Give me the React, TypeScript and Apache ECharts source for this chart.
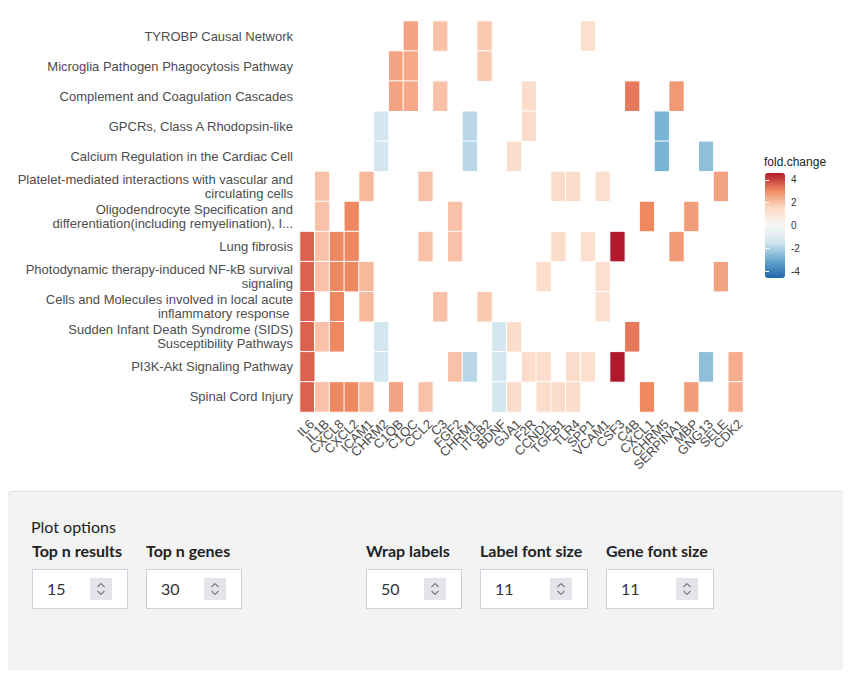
import { useEffect, useRef } from "react";
import * as echarts from "echarts";

// pathways (rows, top to bottom) and genes (columns, left to right)
const pathways = [
    "TYROBP Causal Network",
    "Microglia Pathogen Phagocytosis Pathway",
    "Complement and Coagulation Cascades",
    "GPCRs, Class A Rhodopsin-like",
    "Calcium Regulation in the Cardiac Cell",
    "Platelet-mediated interactions with vascular and\ncirculating cells",
    "Oligodendrocyte Specification and\ndifferentiation(including remyelination), I...",
    "Lung fibrosis",
    "Photodynamic therapy-induced NF-kB survival\nsignaling",
    "Cells and Molecules involved in local acute\ninflammatory response ",
    "Sudden Infant Death Syndrome (SIDS)\nSusceptibility Pathways",
    "PI3K-Akt Signaling Pathway",
    "Spinal Cord Injury",
];

const genes = [
    "IL6", "IL1B", "CXCL8", "CXCL2", "ICAM1", "CHRM2", "C1QB", "C1QC", "CCL2", "C3",
    "FGF2", "CHRM1", "ITGB2", "BDNF", "GJA1", "F2R", "CCND1", "TGFB1", "TLR4", "SPP1",
    "VCAM1", "CSF3", "C4B", "CXCL1", "CHRM5", "SERPINA1", "MBP", "GNG13", "SELE", "CDK2",
];

const _ = null;
// fold change per pathway (row) and gene (column), empty = gene not in pathway
const foldChange: (number | null)[][] = [
    [_, _, _, _, _, _, _, 2.6, _, 2.0, _, _, 1.9, _, _, _, _, _, _, 1.3, _, _, _, _, _, _, _, _, _, _],
    [_, _, _, _, _, _, 2.6, 2.5, _, _, _, _, 1.9, _, _, _, _, _, _, _, _, _, _, _, _, _, _, _, _, _],
    [_, _, _, _, _, _, 2.6, 2.5, _, 2.0, _, _, _, _, _, 1.4, _, _, _, _, _, _, 3.3, _, _, 2.8, _, _, _, _],
    [_, _, _, _, _, -1.4, _, _, _, _, _, -1.9, _, _, _, 1.4, _, _, _, _, _, _, _, _, -2.8, _, _, _, _, _],
    [_, _, _, _, _, -1.4, _, _, _, _, _, -1.9, _, _, 1.4, _, _, _, _, _, _, _, _, _, -2.8, _, _, -2.5, _, _],
    [_, 2.0, _, _, 2.2, _, _, _, 2.0, _, _, _, _, _, _, _, _, 1.4, 1.4, _, 1.3, _, _, _, _, _, _, _, 2.6, _],
    [_, 2.0, _, 3.1, _, _, _, _, _, _, 2.0, _, _, _, _, _, _, _, _, _, _, _, _, 3.1, _, _, 2.7, _, _, _],
    [3.6, 2.0, 3.1, 3.1, _, _, _, _, 2.0, _, 2.0, _, _, _, _, _, _, 1.4, _, 1.3, _, 4.6, _, _, _, 2.8, _, _, _, _],
    [3.6, 2.0, 3.1, 3.1, 2.2, _, _, _, _, _, _, _, _, _, _, _, 1.4, _, _, _, 1.3, _, _, _, _, _, _, _, 2.6, _],
    [3.6, _, 3.1, _, 2.2, _, _, _, _, 2.0, _, _, 1.9, _, _, _, _, _, _, _, 1.3, _, _, _, _, _, _, _, _, _],
    [3.6, 2.0, 3.1, _, _, -1.4, _, _, _, _, _, _, _, -1.4, 1.4, _, _, _, _, _, _, _, 3.3, _, _, _, _, _, _, _],
    [3.6, _, _, _, _, -1.4, _, _, _, _, 2.0, -1.9, _, -1.4, _, 1.4, 1.4, _, 1.4, 1.3, _, 4.6, _, _, _, _, _, -2.5, _, 2.4],
    [3.6, 2.0, 3.1, 3.1, 2.2, _, 2.6, _, 2.0, _, _, _, _, -1.4, 1.4, _, 1.4, 1.4, 1.4, _, _, _, _, 3.1, _, _, 2.7, _, _, 2.4],
];

const scaleLimit = 4.6;
const legendTicks = [-4, -2, 0, 2, 4];
const rdBu = ["#2166ac", "#67a9cf", "#d1e5f0", "#f7f7f7", "#fddbc7", "#ef8a62", "#b2182b"];

const optionLabels = ["Top n results", "Top n genes", "Wrap labels", "Label font size", "Gene font size"];
const optionValues = [15, 30, 50, 11, 11];

const FONT = "Liberation Sans, Arial, sans-serif";

const HeatmapChart = () => {
    const chartRef = useRef<HTMLDivElement>(null);

    useEffect(() => {
        if (!chartRef.current) return;
        const chart = echarts.init(chartRef.current, undefined, { renderer: "svg" });

        const cells: [number, number, number][] = [];
        foldChange.forEach((row, y) =>
            row.forEach((v, x) => {
                if (v !== null) cells.push([x, y, v]);
            })
        );

        const legendAxis = {
            type: "value",
            gridIndex: 1,
            min: -scaleLimit,
            max: scaleLimit,
            axisLine: { show: false },
            splitLine: { show: false },
            axisTick: {
                show: true,
                inside: true,
                length: 4,
                lineStyle: { color: "#ffffff", width: 1 },
                customValues: legendTicks,
            },
            z: 10,
        };

        chart.setOption({
            animation: false,
            textStyle: { fontFamily: FONT },
            grid: [
                { left: 292, top: 13, width: 443, height: 391 },
                { left: 757, top: 165, width: 20, height: 105 },
            ],
            xAxis: [
                {
                    type: "category",
                    data: genes,
                    gridIndex: 0,
                    axisLine: { show: false },
                    axisTick: { show: false },
                    splitLine: { show: false },
                    axisLabel: {
                        rotate: 45,
                        interval: 0,
                        fontSize: 13,
                        color: "#4d4d4d",
                        margin: 5,
                        align: "right",
                        verticalAlign: "top",
                    },
                },
                { type: "value", gridIndex: 1, show: false, min: 0, max: 1 },
            ],
            yAxis: [
                {
                    type: "category",
                    data: pathways,
                    inverse: true,
                    gridIndex: 0,
                    axisLine: { show: false },
                    axisTick: { show: false },
                    splitLine: { show: false },
                    axisLabel: { interval: 0, fontSize: 13, lineHeight: 14, color: "#4d4d4d", margin: 7 },
                },
                {
                    ...legendAxis,
                    position: "right",
                    axisLabel: {
                        show: true,
                        customValues: legendTicks,
                        fontSize: 10,
                        color: "#333333",
                        margin: 6,
                    },
                },
                { ...legendAxis, position: "left", axisLabel: { show: false } },
            ],
            visualMap: {
                type: "continuous",
                min: -scaleLimit,
                max: scaleLimit,
                seriesIndex: 0,
                calculable: false,
                hoverLink: false,
                itemWidth: 20,
                itemHeight: 105,
                left: 757,
                top: 165,
                padding: 0,
                inRange: { color: rdBu },
            },
            graphic: [
                {
                    type: "text",
                    left: 756,
                    top: 148,
                    style: { text: "fold.change", fontSize: 12, fill: "#222222", fontFamily: FONT },
                },
            ],
            series: [
                {
                    type: "heatmap",
                    xAxisIndex: 0,
                    yAxisIndex: 0,
                    data: cells,
                    itemStyle: { borderColor: "#ffffff", borderWidth: 1 },
                    emphasis: { disabled: true },
                },
            ],
        });

        return () => {
            chart.dispose();
        };
    }, []);

    return <div ref={chartRef} style={{ position: "absolute", left: 0, top: 0, width: 835, height: 480 }} />;
};

const Spinner = () => (
    <div
        style={{
            position: "absolute",
            right: 15,
            top: 8,
            width: 22,
            height: 22,
            background: "#e4e4ea",
        }}
    >
        <svg width="22" height="22">
            <polyline points="7.5,9 11,5.5 14.5,9" fill="none" stroke="#7a7a80" strokeWidth="1.1" />
            <polyline points="7.5,13 11,16.5 14.5,13" fill="none" stroke="#7a7a80" strokeWidth="1.1" />
        </svg>
    </div>
);

const OptionsPanel = () => {
    const lefts = [24, 138, 358, 472, 598];
    const widths = [96, 96, 96, 108, 108];
    return (
        <div
            style={{
                position: "absolute",
                left: -1,
                top: 483,
                width: 838,
                height: 184,
                boxSizing: "border-box",
                background: "#f3f3f3",
                border: "1px solid #dddddd",
                borderRadius: 5,
                fontFamily: "Lato, 'Noto Sans', sans-serif",
                color: "#222",
            }}
        >
            <div style={{ position: "absolute", left: 23, top: 25, fontSize: 16 }}>Plot options</div>
            {optionLabels.map((label, i) => (
                <div key={label}>
                    <div style={{ position: "absolute", left: lefts[i], top: 49, fontSize: 16, fontWeight: 700 }}>
                        {label}
                    </div>
                    <div
                        style={{
                            position: "absolute",
                            left: lefts[i],
                            top: 77,
                            width: widths[i],
                            height: 40,
                            boxSizing: "border-box",
                            background: "#ffffff",
                            border: "1px solid #cfd2dc",
                        }}
                    >
                        <div style={{ position: "absolute", left: 14, top: 0, lineHeight: "38px", fontSize: 16, color: "#333" }}>
                            {optionValues[i]}
                        </div>
                        <Spinner />
                    </div>
                </div>
            ))}
        </div>
    );
};

const App = () => {
    return (
        <div style={{ position: "relative", width: 835, height: 662 }}>
            <HeatmapChart />
            <OptionsPanel />
        </div>
    );
};

export default App;
